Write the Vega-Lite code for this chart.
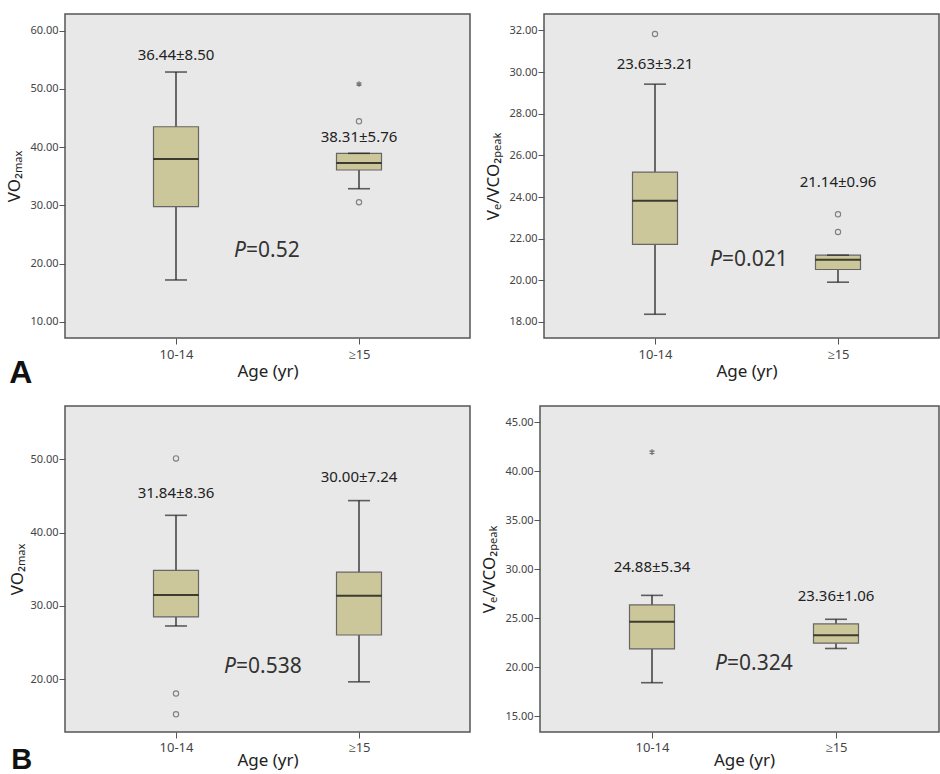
{
  "$schema": "https://vega.github.io/schema/vega-lite/v6.json",
  "background": "white",
  "padding": {"top": 13, "left": 5, "right": 0, "bottom": 0},
  "config": {
    "font": "Noto Sans",
    "view": {"fill": "#e8e8e8", "stroke": "#555555", "strokeWidth": 1.5},
    "axis": {"grid": false, "domain": false, "tickColor": "#555555", "tickSize": 6, "labelColor": "#444444", "titleColor": "#222222", "titleFontWeight": "normal", "titleFontSize": 17, "labelFont": "Noto Sans", "titleFont": "Noto Sans"},
    "title": {"font": "Liberation Sans", "fontWeight": "bold", "fontSize": 32, "color": "#111111"}
  },
  "datasets": {
    "boxes": [
      {"panel": "A1", "grp": "10-14", "lo": 17.17, "q1": 29.76, "med": 37.95, "q3": 43.5, "hi": 52.9},
      {"panel": "A1", "grp": "≥15", "lo": 32.85, "q1": 36.07, "med": 37.27, "q3": 38.93, "hi": 38.93},
      {"panel": "A2", "grp": "10-14", "lo": 18.37, "q1": 21.73, "med": 23.82, "q3": 25.2, "hi": 29.42},
      {"panel": "A2", "grp": "≥15", "lo": 19.91, "q1": 20.52, "med": 20.99, "q3": 21.21, "hi": 21.21},
      {"panel": "B1", "grp": "10-14", "lo": 27.26, "q1": 28.49, "med": 31.5, "q3": 34.84, "hi": 42.37},
      {"panel": "B1", "grp": "≥15", "lo": 19.63, "q1": 26.03, "med": 31.37, "q3": 34.6, "hi": 44.38},
      {"panel": "B2", "grp": "10-14", "lo": 18.43, "q1": 21.88, "med": 24.66, "q3": 26.36, "hi": 27.34},
      {"panel": "B2", "grp": "≥15", "lo": 21.92, "q1": 22.46, "med": 23.27, "q3": 24.43, "hi": 24.9}
    ],
    "outliers": [
      {"panel": "A1", "grp": "≥15", "v": 50.84, "kind": "extreme"},
      {"panel": "A1", "grp": "≥15", "v": 44.43, "kind": "outlier"},
      {"panel": "A1", "grp": "≥15", "v": 30.52, "kind": "outlier"},
      {"panel": "A2", "grp": "10-14", "v": 31.83, "kind": "outlier"},
      {"panel": "A2", "grp": "≥15", "v": 23.17, "kind": "outlier"},
      {"panel": "A2", "grp": "≥15", "v": 22.32, "kind": "outlier"},
      {"panel": "B1", "grp": "10-14", "v": 50.14, "kind": "outlier"},
      {"panel": "B1", "grp": "10-14", "v": 18.03, "kind": "outlier"},
      {"panel": "B1", "grp": "10-14", "v": 15.2, "kind": "outlier"},
      {"panel": "B2", "grp": "10-14", "v": 41.96, "kind": "extreme"}
    ],
    "labels": [
      {"panel": "A1", "grp": "10-14", "v": 55.9, "text": "36.44±8.50"},
      {"panel": "A1", "grp": "≥15", "v": 41.73, "text": "38.31±5.76"},
      {"panel": "A2", "grp": "10-14", "v": 30.41, "text": "23.63±3.21"},
      {"panel": "A2", "grp": "≥15", "v": 24.71, "text": "21.14±0.96"},
      {"panel": "B1", "grp": "10-14", "v": 45.43, "text": "31.84±8.36"},
      {"panel": "B1", "grp": "≥15", "v": 47.58, "text": "30.00±7.24"},
      {"panel": "B2", "grp": "10-14", "v": 30.19, "text": "24.88±5.34"},
      {"panel": "B2", "grp": "≥15", "v": 27.31, "text": "23.36±1.06"}
    ],
    "pvalues": [
      {"panel": "A1", "grp": "10-14", "v": 22.15, "text": "=0.52"},
      {"panel": "A2", "grp": "10-14", "v": 20.96, "text": "=0.021"},
      {"panel": "B1", "grp": "10-14", "v": 21.68, "text": "=0.538"},
      {"panel": "B2", "grp": "10-14", "v": 20.29, "text": "=0.324"}
    ]
  },
  "columns": 1,
  "align": "none",
  "spacing": 16,
  "concat": [
    {
      "title": {"text": "A", "orient": "bottom", "anchor": "start", "offset": -22, "dx": 4},
      "spacing": 13,
      "hconcat": [
        {
          "width": 405, "height": 324,
          "encoding": {
            "x": {"field": "grp", "type": "nominal", "sort": ["10-14", "≥15"], "scale": {"type": "point", "domain": ["10-14", "≥15"], "range": [111, 294], "padding": 0}, "axis": {"title": "Age (yr)", "labelAngle": 0, "labelFontSize": 13, "labelPadding": 4, "titlePadding": 2}},
            "y": {"type": "quantitative", "scale": {"domain": [7.2, 62.87], "nice": false, "zero": false}, "axis": {"title": "VO₂ₘₐₓ", "values": [10, 20, 30, 40, 50, 60], "format": ".2f", "labelFontSize": 11, "labelPadding": 1, "titlePadding": 6}}
          },
          "layer": [
            {"data": {"name": "boxes"}, "transform": [{"filter": "datum.panel === 'A1'"}], "mark": {"type": "rule", "color": "#222222", "strokeWidth": 1.3}, "encoding": {"y": {"field": "lo"}, "y2": {"field": "hi"}}},
            {"data": {"name": "boxes"}, "transform": [{"filter": "datum.panel === 'A1'"}], "mark": {"type": "bar", "size": 45, "fill": "#ccc79b", "stroke": "#666666", "strokeWidth": 1.2}, "encoding": {"y": {"field": "q1"}, "y2": {"field": "q3"}}},
            {"data": {"name": "boxes"}, "transform": [{"filter": "datum.panel === 'A1'"}], "mark": {"type": "tick", "size": 45, "thickness": 2, "color": "#000000"}, "encoding": {"y": {"field": "med"}}},
            {"data": {"name": "boxes"}, "transform": [{"filter": "datum.panel === 'A1'"}], "mark": {"type": "tick", "size": 22, "thickness": 1.6, "color": "#222222"}, "encoding": {"y": {"field": "lo"}}},
            {"data": {"name": "boxes"}, "transform": [{"filter": "datum.panel === 'A1'"}], "mark": {"type": "tick", "size": 22, "thickness": 1.6, "color": "#222222"}, "encoding": {"y": {"field": "hi"}}},
            {"data": {"name": "outliers"}, "transform": [{"filter": "datum.panel === 'A1' && datum.kind === 'outlier'"}], "mark": {"type": "point", "shape": "circle", "size": 28, "filled": false, "stroke": "#555555", "strokeWidth": 1.1}, "encoding": {"y": {"field": "v"}}},
            {"data": {"name": "outliers"}, "transform": [{"filter": "datum.panel === 'A1' && datum.kind === 'extreme'"}], "mark": {"type": "point", "shape": "M0,-1L0,1M-0.87,-0.5L0.87,0.5M-0.87,0.5L0.87,-0.5", "size": 32, "filled": false, "stroke": "#444444", "strokeWidth": 1.3}, "encoding": {"y": {"field": "v"}}},
            {"data": {"name": "labels"}, "transform": [{"filter": "datum.panel === 'A1'"}], "mark": {"type": "text", "fontSize": 15, "color": "#222222", "baseline": "middle"}, "encoding": {"y": {"field": "v"}, "text": {"field": "text"}}},
            {"data": {"name": "pvalues"}, "transform": [{"filter": "datum.panel === 'A1'"}], "mark": {"type": "text", "fontSize": 21, "fontStyle": "italic", "color": "#333333", "baseline": "middle", "align": "right", "dx": 70}, "encoding": {"y": {"field": "v"}, "text": {"value": "P"}}},
            {"data": {"name": "pvalues"}, "transform": [{"filter": "datum.panel === 'A1'"}], "mark": {"type": "text", "fontSize": 21, "color": "#333333", "baseline": "middle", "align": "left", "dx": 70}, "encoding": {"y": {"field": "v"}, "text": {"field": "text"}}}
          ]
        },
        {
          "width": 395, "height": 324,
          "encoding": {
            "x": {"field": "grp", "type": "nominal", "sort": ["10-14", "≥15"], "scale": {"type": "point", "domain": ["10-14", "≥15"], "range": [111, 294], "padding": 0}, "axis": {"title": "Age (yr)", "labelAngle": 0, "labelFontSize": 13, "labelPadding": 4, "titlePadding": 2}},
            "y": {"type": "quantitative", "scale": {"domain": [17.23, 32.79], "nice": false, "zero": false}, "axis": {"title": "Vₑ/VCO₂ₚₑₐₖ", "values": [18, 20, 22, 24, 26, 28, 30, 32], "format": ".2f", "labelFontSize": 11, "labelPadding": 1, "titlePadding": 6}}
          },
          "layer": [
            {"data": {"name": "boxes"}, "transform": [{"filter": "datum.panel === 'A2'"}], "mark": {"type": "rule", "color": "#222222", "strokeWidth": 1.3}, "encoding": {"y": {"field": "lo"}, "y2": {"field": "hi"}}},
            {"data": {"name": "boxes"}, "transform": [{"filter": "datum.panel === 'A2'"}], "mark": {"type": "bar", "size": 45, "fill": "#ccc79b", "stroke": "#666666", "strokeWidth": 1.2}, "encoding": {"y": {"field": "q1"}, "y2": {"field": "q3"}}},
            {"data": {"name": "boxes"}, "transform": [{"filter": "datum.panel === 'A2'"}], "mark": {"type": "tick", "size": 45, "thickness": 2, "color": "#000000"}, "encoding": {"y": {"field": "med"}}},
            {"data": {"name": "boxes"}, "transform": [{"filter": "datum.panel === 'A2'"}], "mark": {"type": "tick", "size": 22, "thickness": 1.6, "color": "#222222"}, "encoding": {"y": {"field": "lo"}}},
            {"data": {"name": "boxes"}, "transform": [{"filter": "datum.panel === 'A2'"}], "mark": {"type": "tick", "size": 22, "thickness": 1.6, "color": "#222222"}, "encoding": {"y": {"field": "hi"}}},
            {"data": {"name": "outliers"}, "transform": [{"filter": "datum.panel === 'A2' && datum.kind === 'outlier'"}], "mark": {"type": "point", "shape": "circle", "size": 28, "filled": false, "stroke": "#555555", "strokeWidth": 1.1}, "encoding": {"y": {"field": "v"}}},
            {"data": {"name": "labels"}, "transform": [{"filter": "datum.panel === 'A2'"}], "mark": {"type": "text", "fontSize": 15, "color": "#222222", "baseline": "middle"}, "encoding": {"y": {"field": "v"}, "text": {"field": "text"}}},
            {"data": {"name": "pvalues"}, "transform": [{"filter": "datum.panel === 'A2'"}], "mark": {"type": "text", "fontSize": 21, "fontStyle": "italic", "color": "#333333", "baseline": "middle", "align": "right", "dx": 67}, "encoding": {"y": {"field": "v"}, "text": {"value": "P"}}},
            {"data": {"name": "pvalues"}, "transform": [{"filter": "datum.panel === 'A2'"}], "mark": {"type": "text", "fontSize": 21, "color": "#333333", "baseline": "middle", "align": "left", "dx": 67}, "encoding": {"y": {"field": "v"}, "text": {"field": "text"}}}
          ]
        }
      ]
    },
    {
      "title": {"text": "B", "orient": "bottom", "anchor": "start", "offset": -23, "fontSize": 29, "dx": 3},
      "spacing": 9,
      "hconcat": [
        {
          "width": 405, "height": 326,
          "encoding": {
            "x": {"field": "grp", "type": "nominal", "sort": ["10-14", "≥15"], "scale": {"type": "point", "domain": ["10-14", "≥15"], "range": [111, 294], "padding": 0}, "axis": {"title": "Age (yr)", "labelAngle": 0, "labelFontSize": 13, "labelPadding": 3, "titlePadding": -2}},
            "y": {"type": "quantitative", "scale": {"domain": [12.78, 57.3], "nice": false, "zero": false}, "axis": {"title": "VO₂ₘₐₓ", "values": [20, 30, 40, 50], "format": ".2f", "labelFontSize": 11, "labelPadding": 1, "titlePadding": 3}}
          },
          "layer": [
            {"data": {"name": "boxes"}, "transform": [{"filter": "datum.panel === 'B1'"}], "mark": {"type": "rule", "color": "#222222", "strokeWidth": 1.3}, "encoding": {"y": {"field": "lo"}, "y2": {"field": "hi"}}},
            {"data": {"name": "boxes"}, "transform": [{"filter": "datum.panel === 'B1'"}], "mark": {"type": "bar", "size": 45, "fill": "#ccc79b", "stroke": "#666666", "strokeWidth": 1.2}, "encoding": {"y": {"field": "q1"}, "y2": {"field": "q3"}}},
            {"data": {"name": "boxes"}, "transform": [{"filter": "datum.panel === 'B1'"}], "mark": {"type": "tick", "size": 45, "thickness": 2, "color": "#000000"}, "encoding": {"y": {"field": "med"}}},
            {"data": {"name": "boxes"}, "transform": [{"filter": "datum.panel === 'B1'"}], "mark": {"type": "tick", "size": 22, "thickness": 1.6, "color": "#222222"}, "encoding": {"y": {"field": "lo"}}},
            {"data": {"name": "boxes"}, "transform": [{"filter": "datum.panel === 'B1'"}], "mark": {"type": "tick", "size": 22, "thickness": 1.6, "color": "#222222"}, "encoding": {"y": {"field": "hi"}}},
            {"data": {"name": "outliers"}, "transform": [{"filter": "datum.panel === 'B1' && datum.kind === 'outlier'"}], "mark": {"type": "point", "shape": "circle", "size": 28, "filled": false, "stroke": "#555555", "strokeWidth": 1.1}, "encoding": {"y": {"field": "v"}}},
            {"data": {"name": "labels"}, "transform": [{"filter": "datum.panel === 'B1'"}], "mark": {"type": "text", "fontSize": 15, "color": "#222222", "baseline": "middle"}, "encoding": {"y": {"field": "v"}, "text": {"field": "text"}}},
            {"data": {"name": "pvalues"}, "transform": [{"filter": "datum.panel === 'B1'"}], "mark": {"type": "text", "fontSize": 21, "fontStyle": "italic", "color": "#333333", "baseline": "middle", "align": "right", "dx": 60}, "encoding": {"y": {"field": "v"}, "text": {"value": "P"}}},
            {"data": {"name": "pvalues"}, "transform": [{"filter": "datum.panel === 'B1'"}], "mark": {"type": "text", "fontSize": 21, "color": "#333333", "baseline": "middle", "align": "left", "dx": 60}, "encoding": {"y": {"field": "v"}, "text": {"field": "text"}}}
          ]
        },
        {
          "width": 399, "height": 326,
          "encoding": {
            "x": {"field": "grp", "type": "nominal", "sort": ["10-14", "≥15"], "scale": {"type": "point", "domain": ["10-14", "≥15"], "range": [112, 296], "padding": 0}, "axis": {"title": "Age (yr)", "labelAngle": 0, "labelFontSize": 13, "labelPadding": 3, "titlePadding": -2}},
            "y": {"type": "quantitative", "scale": {"domain": [13.4, 46.66], "nice": false, "zero": false}, "axis": {"title": "Vₑ/VCO₂ₚₑₐₖ", "values": [15, 20, 25, 30, 35, 40, 45], "format": ".2f", "labelFontSize": 11, "labelPadding": 1, "titlePadding": 6}}
          },
          "layer": [
            {"data": {"name": "boxes"}, "transform": [{"filter": "datum.panel === 'B2'"}], "mark": {"type": "rule", "color": "#222222", "strokeWidth": 1.3}, "encoding": {"y": {"field": "lo"}, "y2": {"field": "hi"}}},
            {"data": {"name": "boxes"}, "transform": [{"filter": "datum.panel === 'B2'"}], "mark": {"type": "bar", "size": 45, "fill": "#ccc79b", "stroke": "#666666", "strokeWidth": 1.2}, "encoding": {"y": {"field": "q1"}, "y2": {"field": "q3"}}},
            {"data": {"name": "boxes"}, "transform": [{"filter": "datum.panel === 'B2'"}], "mark": {"type": "tick", "size": 45, "thickness": 2, "color": "#000000"}, "encoding": {"y": {"field": "med"}}},
            {"data": {"name": "boxes"}, "transform": [{"filter": "datum.panel === 'B2'"}], "mark": {"type": "tick", "size": 22, "thickness": 1.6, "color": "#222222"}, "encoding": {"y": {"field": "lo"}}},
            {"data": {"name": "boxes"}, "transform": [{"filter": "datum.panel === 'B2'"}], "mark": {"type": "tick", "size": 22, "thickness": 1.6, "color": "#222222"}, "encoding": {"y": {"field": "hi"}}},
            {"data": {"name": "outliers"}, "transform": [{"filter": "datum.panel === 'B2' && datum.kind === 'extreme'"}], "mark": {"type": "point", "shape": "M0,-1L0,1M-0.87,-0.5L0.87,0.5M-0.87,0.5L0.87,-0.5", "size": 32, "filled": false, "stroke": "#444444", "strokeWidth": 1.3}, "encoding": {"y": {"field": "v"}}},
            {"data": {"name": "labels"}, "transform": [{"filter": "datum.panel === 'B2'"}], "mark": {"type": "text", "fontSize": 15, "color": "#222222", "baseline": "middle"}, "encoding": {"y": {"field": "v"}, "text": {"field": "text"}}},
            {"data": {"name": "pvalues"}, "transform": [{"filter": "datum.panel === 'B2'"}], "mark": {"type": "text", "fontSize": 21, "fontStyle": "italic", "color": "#333333", "baseline": "middle", "align": "right", "dx": 75}, "encoding": {"y": {"field": "v"}, "text": {"value": "P"}}},
            {"data": {"name": "pvalues"}, "transform": [{"filter": "datum.panel === 'B2'"}], "mark": {"type": "text", "fontSize": 21, "color": "#333333", "baseline": "middle", "align": "left", "dx": 75}, "encoding": {"y": {"field": "v"}, "text": {"field": "text"}}}
          ]
        }
      ]
    }
  ]
}
